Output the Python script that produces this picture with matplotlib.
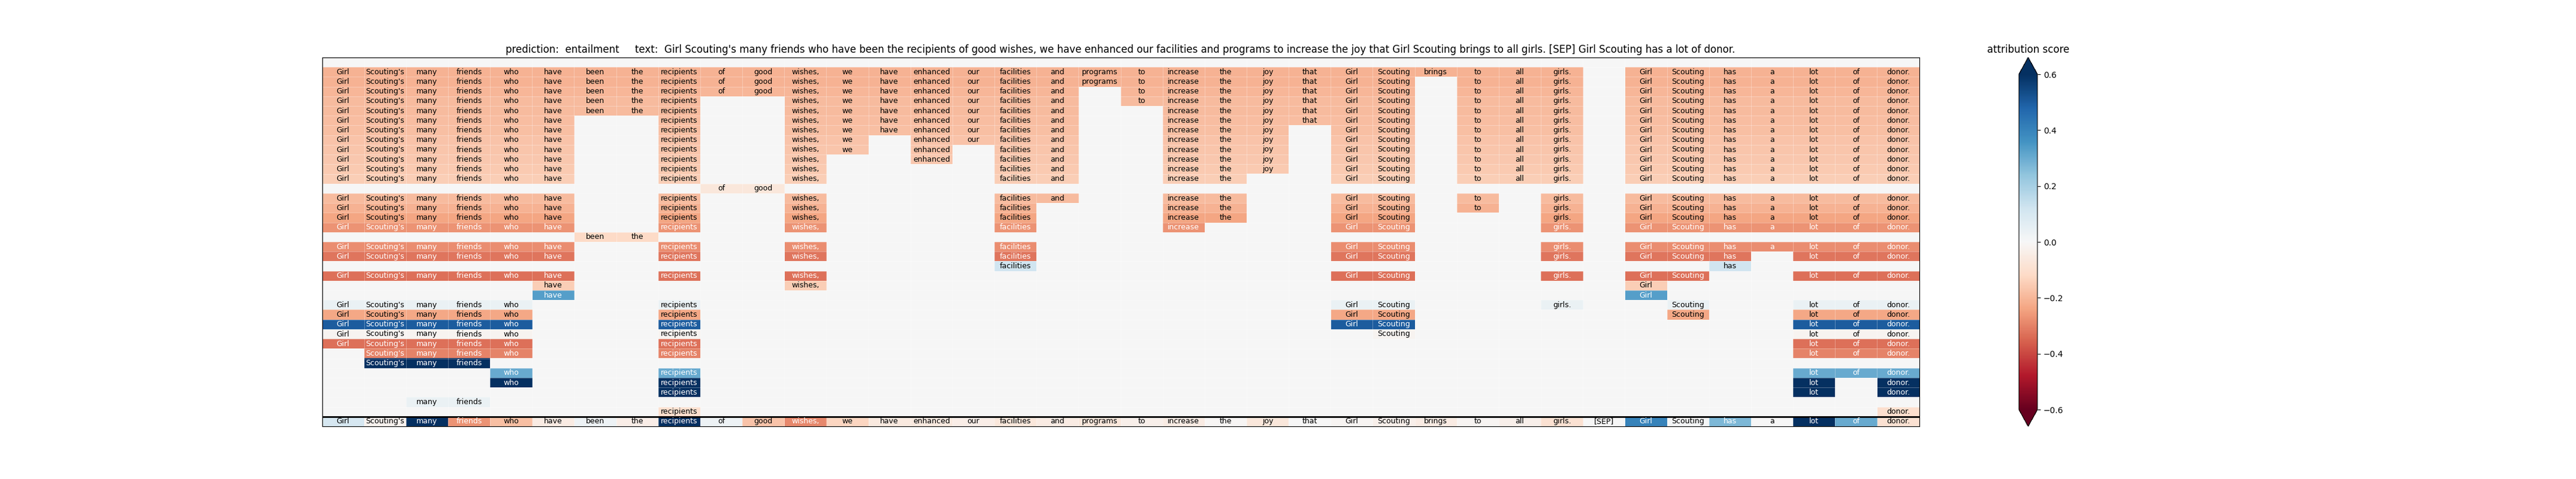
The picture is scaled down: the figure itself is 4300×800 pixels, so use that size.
import matplotlib
matplotlib.use('Agg')
import matplotlib.pyplot as plt
import numpy as np

# tokens of the premise [SEP] hypothesis
tokens = ["Girl", "Scouting's", "many", "friends", "who", "have", "been", "the",
          "recipients", "of", "good", "wishes,", "we", "have", "enhanced", "our",
          "facilities", "and", "programs", "to", "increase", "the", "joy", "that",
          "Girl", "Scouting", "brings", "to", "all", "girls.", "[SEP]", "Girl",
          "Scouting", "has", "a", "lot", "of", "donor."]

# which tokens belong to the span shown in each row (row 0 is empty)
row_tokens = [
    [],
    [0, 1, 2, 3, 4, 5, 6, 7, 8, 9, 10, 11, 12, 13, 14, 15, 16, 17, 18, 19, 20, 21, 22, 23, 24, 25, 26, 27, 28, 29, 31, 32, 33, 34, 35, 36, 37],
    [0, 1, 2, 3, 4, 5, 6, 7, 8, 9, 10, 11, 12, 13, 14, 15, 16, 17, 18, 19, 20, 21, 22, 23, 24, 25, 27, 28, 29, 31, 32, 33, 34, 35, 36, 37],
    [0, 1, 2, 3, 4, 5, 6, 7, 8, 9, 10, 11, 12, 13, 14, 15, 16, 17, 19, 20, 21, 22, 23, 24, 25, 27, 28, 29, 31, 32, 33, 34, 35, 36, 37],
    [0, 1, 2, 3, 4, 5, 6, 7, 8, 11, 12, 13, 14, 15, 16, 17, 19, 20, 21, 22, 23, 24, 25, 27, 28, 29, 31, 32, 33, 34, 35, 36, 37],
    [0, 1, 2, 3, 4, 5, 6, 7, 8, 11, 12, 13, 14, 15, 16, 17, 20, 21, 22, 23, 24, 25, 27, 28, 29, 31, 32, 33, 34, 35, 36, 37],
    [0, 1, 2, 3, 4, 5, 8, 11, 12, 13, 14, 15, 16, 17, 20, 21, 22, 23, 24, 25, 27, 28, 29, 31, 32, 33, 34, 35, 36, 37],
    [0, 1, 2, 3, 4, 5, 8, 11, 12, 13, 14, 15, 16, 17, 20, 21, 22, 24, 25, 27, 28, 29, 31, 32, 33, 34, 35, 36, 37],
    [0, 1, 2, 3, 4, 5, 8, 11, 12, 14, 15, 16, 17, 20, 21, 22, 24, 25, 27, 28, 29, 31, 32, 33, 34, 35, 36, 37],
    [0, 1, 2, 3, 4, 5, 8, 11, 12, 14, 16, 17, 20, 21, 22, 24, 25, 27, 28, 29, 31, 32, 33, 34, 35, 36, 37],
    [0, 1, 2, 3, 4, 5, 8, 11, 14, 16, 17, 20, 21, 22, 24, 25, 27, 28, 29, 31, 32, 33, 34, 35, 36, 37],
    [0, 1, 2, 3, 4, 5, 8, 11, 16, 17, 20, 21, 22, 24, 25, 27, 28, 29, 31, 32, 33, 34, 35, 36, 37],
    [0, 1, 2, 3, 4, 5, 8, 11, 16, 17, 20, 21, 24, 25, 27, 28, 29, 31, 32, 33, 34, 35, 36, 37],
    [9, 10],
    [0, 1, 2, 3, 4, 5, 8, 11, 16, 17, 20, 21, 24, 25, 27, 29, 31, 32, 33, 34, 35, 36, 37],
    [0, 1, 2, 3, 4, 5, 8, 11, 16, 20, 21, 24, 25, 27, 29, 31, 32, 33, 34, 35, 36, 37],
    [0, 1, 2, 3, 4, 5, 8, 11, 16, 20, 21, 24, 25, 29, 31, 32, 33, 34, 35, 36, 37],
    [0, 1, 2, 3, 4, 5, 8, 11, 16, 20, 24, 25, 29, 31, 32, 33, 34, 35, 36, 37],
    [6, 7],
    [0, 1, 2, 3, 4, 5, 8, 11, 16, 24, 25, 29, 31, 32, 33, 34, 35, 36, 37],
    [0, 1, 2, 3, 4, 5, 8, 11, 16, 24, 25, 29, 31, 32, 33, 35, 36, 37],
    [16, 33],
    [0, 1, 2, 3, 4, 5, 8, 11, 24, 25, 29, 31, 32, 35, 36, 37],
    [5, 11, 31],
    [5, 31],
    [0, 1, 2, 3, 4, 8, 24, 25, 29, 32, 35, 36, 37],
    [0, 1, 2, 3, 4, 8, 24, 25, 32, 35, 36, 37],
    [0, 1, 2, 3, 4, 8, 24, 25, 35, 36, 37],
    [0, 1, 2, 3, 4, 8, 25, 35, 36, 37],
    [0, 1, 2, 3, 4, 8, 35, 36, 37],
    [1, 2, 3, 4, 8, 35, 36, 37],
    [1, 2, 3],
    [4, 8, 35, 36, 37],
    [4, 8, 35, 37],
    [8, 35, 37],
    [2, 3],
    [8, 37],
]

# attribution score of each row's span
row_scores = [0.0, -0.21, -0.21, -0.20, -0.19, -0.19, -0.185, -0.18, -0.17, -0.165,
              -0.16, -0.155, -0.15, -0.07, -0.19, -0.21, -0.235, -0.27, -0.12, -0.28,
              -0.32, 0.12, -0.33, -0.15, 0.33, 0.04, -0.23, 0.5, -0.015, -0.33,
              -0.30, 0.6, 0.3, 0.6, 0.6, 0.04, -0.10]

# word level scores (last row)
word_scores = [0.10, -0.02, 0.60, -0.27, -0.18, -0.05, 0.03, -0.04, 0.60, 0.03,
               -0.17, -0.29, -0.13, -0.06, -0.06, -0.04, -0.07, -0.05, -0.07, -0.03,
               -0.05, -0.005, -0.07, 0.0, -0.01, -0.03, -0.05, -0.01, -0.03, -0.09,
               0.0, 0.40, 0.01, 0.27, 0.0, 0.60, 0.30, -0.09]

prediction = "entailment"
sentence = " ".join(tokens)

n_rows = len(row_tokens) + 1
n_cols = len(tokens)
mat = np.zeros((n_rows, n_cols))
for r, idx in enumerate(row_tokens):
    for j in idx:
        mat[r, j] = row_scores[r]
mat[-1, :] = word_scores

fig, ax = plt.subplots(figsize=(43, 8), dpi=100)
im = ax.imshow(mat, cmap='RdBu', vmin=-0.6, vmax=0.6, aspect='auto', interpolation='nearest')

# thin white cell borders
ax.set_xticks(np.arange(-0.5, n_cols, 1), minor=True)
ax.set_yticks(np.arange(-0.5, n_rows, 1), minor=True)
ax.grid(which='minor', color='white', linewidth=0.6, alpha=0.35)
ax.tick_params(which='both', length=0)
ax.set_xticks([])
ax.set_yticks([])

# words in the cells
for r, idx in enumerate(row_tokens):
    for j in idx:
        c = 'white' if abs(row_scores[r]) > 0.25 else 'black'
        ax.text(j, r, tokens[j], ha='center', va='center', fontsize=9, color=c)
for j, w in enumerate(tokens):
    c = 'white' if abs(word_scores[j]) > 0.25 else 'black'
    ax.text(j, n_rows - 1, w, ha='center', va='center', fontsize=9, color=c)

ax.axhline(n_rows - 1.5, color='black', linewidth=2)

ax.set_title("prediction:  " + prediction + "     text:  " + sentence)

cbar = fig.colorbar(im, ax=ax, extend='both')
cbar.ax.set_title('attribution score')

plt.savefig('out.png')
plt.close()
